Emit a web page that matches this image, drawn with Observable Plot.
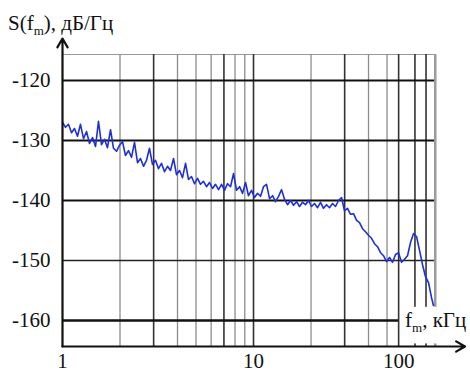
<!DOCTYPE html>
<html>
<head>
<meta charset="utf-8">
<script src="https://cdn.jsdelivr.net/npm/d3@7"></script>
<script src="https://cdn.jsdelivr.net/npm/@observablehq/plot@0.6"></script>
<style>
  html, body { margin: 0; padding: 0; background: #fff; }
  #wrap { position: relative; width: 470px; height: 373px; font-family: 'Liberation Serif', 'DejaVu Serif', Tinos, serif; color: #111; }
  #wrap svg text { font-family: 'Liberation Serif', 'DejaVu Serif', Tinos, serif !important; font-size: 21px !important; fill: #111; }
  .lbl { position: absolute; font-size: 21px; line-height: 1; white-space: nowrap; font-family: 'Liberation Serif', 'DejaVu Serif', Tinos, serif; }
  .lbl sub { font-size: 0.62em; vertical-align: -0.35em; line-height: 0; }
</style>
</head>
<body>
<div id="wrap"></div>
<script>
// Frequency (kHz) of each reading along the trace
const freq = [1.000,1.037,1.075,1.115,1.156,1.198,1.242,1.288,1.336,1.385,
  1.436,1.489,1.543,1.600,1.659,1.720,1.784,1.849,1.918,1.988,
  2.061,2.137,2.216,2.297,2.382,2.470,2.561,2.655,2.753,2.854,
  2.959,3.068,3.181,3.298,3.420,3.546,3.676,3.812,3.952,4.098,
  4.249,4.406,4.568,4.736,4.911,5.092,5.279,5.474,5.675,5.884,
  6.101,6.326,6.559,6.801,7.051,7.311,7.580,7.860,8.149,8.449,
  8.761,9.083,9.415,9.761,10.12,10.49,10.88,11.28,11.70,12.13,
  12.58,13.04,13.52,14.02,14.53,15.07,15.62,16.20,16.80,17.41,
  18.05,18.72,19.41,20.12,20.86,21.63,22.43,23.25,24.11,25.00,
  25.92,26.87,27.86,28.89,29.95,31.06,32.20,33.39,34.62,35.89,
  37.21,38.58,40.00,41.48,43.00,44.59,46.23,47.93,49.70,51.52,
  53.42,55.39,57.43,59.55,61.74,64.01,66.37,68.82,71.35,73.98,
  76.70,79.52,82.45,85.49,87.50];
// Spectral density S(fm), dB/Hz
const level = [-127.0,-127.8,-127.3,-128.7,-128.0,-129.3,-127.3,-129.7,-128.5,-130.5,
  -129.5,-131.0,-126.8,-130.7,-129.8,-131.2,-128.2,-131.3,-131.8,-130.8,
  -130.2,-132.5,-131.7,-132.8,-130.3,-133.7,-133.0,-134.3,-133.3,-131.3,
  -134.0,-133.3,-134.7,-133.8,-135.2,-134.3,-135.0,-133.0,-135.7,-135.0,
  -136.2,-133.8,-136.5,-136.0,-137.2,-136.3,-137.3,-136.8,-137.7,-137.0,
  -138.0,-137.3,-138.2,-137.3,-138.3,-137.2,-137.7,-135.5,-138.3,-137.7,
  -138.8,-137.0,-139.2,-138.3,-139.5,-138.8,-139.3,-137.7,-137.3,-139.7,
  -139.2,-140.2,-139.3,-138.2,-139.8,-140.7,-140.0,-140.8,-140.2,-141.0,
  -140.3,-140.7,-140.0,-141.0,-140.5,-141.2,-140.3,-141.3,-140.7,-141.2,
  -140.5,-141.0,-140.0,-139.5,-141.7,-141.3,-142.3,-142.2,-143.3,-143.7,
  -144.7,-145.2,-145.8,-146.3,-147.2,-147.7,-148.7,-149.2,-150.2,-149.5,
  -150.3,-149.0,-148.7,-150.3,-149.8,-149.2,-147.0,-145.5,-146.0,-148.3,
  -150.7,-152.7,-153.7,-156.2,-157.5];

const yTicks = [-120, -130, -140, -150, -160];
const xTickValues = [1, 10, 57.5];
const xTickLabels = ["1", "10", "100"];
const gridMinor = [2, 4, 5, 6, 8, 9, 20, 40, 50, 90];
const gridMajor = [3, 7, 10, 30, 57.5, 70, 80];

const data = freq.map((f, i) => ({f, s: level[i]}));
const xDomain = [1, 88.6];
const yDomain = [-164.33, -115.67];
const tickLabel = new Map(xTickValues.map((v, i) => [v, xTickLabels[i]]));
const serif = "'Liberation Serif', 'DejaVu Serif', Tinos, serif";

const chart = Plot.plot({
  width: 470,
  height: 373,
  marginLeft: 62,
  marginRight: 36,
  marginTop: 54,
  marginBottom: 27,
  style: {background: "white", fontFamily: serif, fontSize: "21px", color: "#111", overflow: "visible"},
  x: {type: "log", domain: xDomain, ticks: xTickValues, tickFormat: d => tickLabel.get(d) ?? "", tickSize: 0, tickPadding: 7, label: null},
  y: {domain: yDomain, ticks: yTicks, tickFormat: d => String(d), tickSize: 0, tickPadding: 12, label: null},
  marks: [
    Plot.ruleY([yDomain[1]], {stroke: "#9a9a9a", strokeWidth: 1}),
    Plot.ruleX([xDomain[1]], {stroke: "#9a9a9a", strokeWidth: 1}),
    Plot.ruleX(gridMinor, {stroke: "#8c8c8c", strokeWidth: 1.3}),
    Plot.ruleX(gridMajor, {stroke: "#333", strokeWidth: 1.6}),
    Plot.ruleY(yTicks.slice(0, 3), {stroke: "#111", strokeWidth: 2}),
    Plot.ruleY([yTicks[3]], {stroke: "#222", strokeWidth: 1.4}),
    Plot.ruleY([yTicks[4]], {x1: xDomain[0], x2: xTickValues[2], stroke: "#111", strokeWidth: 2.6}),
    Plot.rect([0], {x1: 59.5, x2: 140, y1: -163.9, y2: -157.8, fill: "white"}),
    Plot.line(data, {x: "f", y: "s", stroke: "#1f2fd6", strokeWidth: 1.6, strokeLinejoin: "round"}),
    Plot.arrow([0], {x1: xDomain[0], y1: yDomain[0], x2: xDomain[0], y2: -113.0, stroke: "#111", strokeWidth: 2.2, headLength: 7}),
    Plot.arrow([0], {x1: xDomain[0], y1: yDomain[0], x2: 128, y2: yDomain[0], stroke: "#111", strokeWidth: 2.2, headLength: 7})
  ]
});

const wrap = document.getElementById("wrap");
wrap.appendChild(chart);
d3.select(chart).selectAll("text").style("font-family", serif).style("font-size", "21px");
d3.select(chart).selectAll("g[aria-label$='axis']").attr("font-family", serif);
const t1 = document.createElement("div");
t1.className = "lbl";
t1.style.left = "8px"; t1.style.top = "13px";
t1.innerHTML = "S(f<sub>m</sub>), дБ/Гц";
wrap.appendChild(t1);
const t2 = document.createElement("div");
t2.className = "lbl";
t2.style.left = "405px"; t2.style.top = "310px";
t2.innerHTML = "f<sub>m</sub>, кГц";
wrap.appendChild(t2);
</script>
</body>
</html>
